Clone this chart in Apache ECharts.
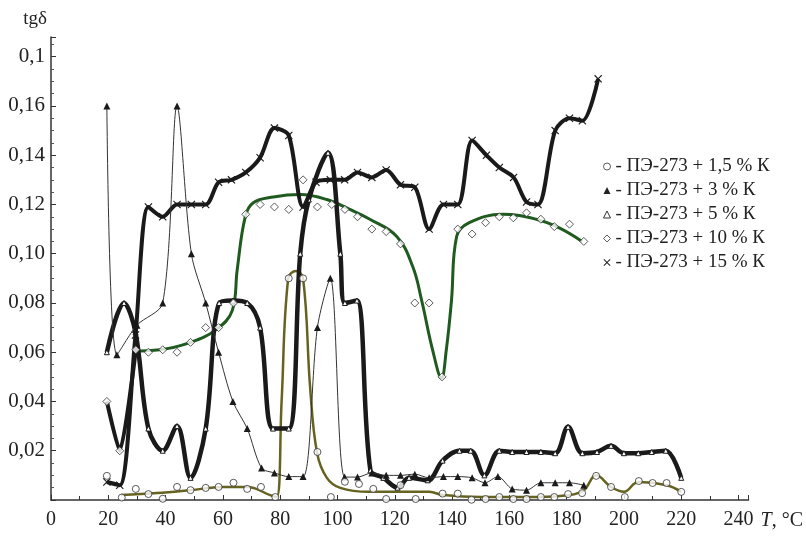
<!DOCTYPE html>
<html>
<head>
<meta charset="utf-8">
<script src="https://cdn.jsdelivr.net/npm/echarts@6/dist/echarts.min.js"></script>
<style>
  html, body { margin: 0; background: #fff; }
  #chart { width: 806px; height: 540px; }
</style>
</head>
<body>
<div id="chart"></div>
<script>
// tgδ(T) for ПЭ-273 with different K content

const names = ['ПЭ-273 + 1,5 % К', 'ПЭ-273 + 3 % К', 'ПЭ-273 + 5 % К', 'ПЭ-273 + 10 % К', 'ПЭ-273 + 15 % К'];
const yTickLabels = ['0,02', '0,04', '0,06', '0,08', '0,10', '0,12', '0,14', '0,16', '0,1'];

// 1,5 % K: open circles + olive fitted curve
const t1_5 = [19.5, 24.7, 29.6, 34, 39, 44, 48.7, 54, 58.5, 63.7, 68.5, 73.3, 78.3, 83, 88, 93, 97.7, 102.6, 107.5, 112.5, 117, 122, 127.3, 136.7, 142, 146.8, 151.7, 156.5, 161.4, 166, 171, 175.7, 180.5, 185.4, 190.3, 195.5, 200.3, 205.2, 210, 214.9, 220];
const v1_5 = [0.0098, 0.001, 0.0045, 0.0024, 0.0005, 0.0053, 0.004, 0.0049, 0.0053, 0.007, 0.0045, 0.0053, 0.0012, 0.09, 0.09, 0.0195, 0.0012, 0.0074, 0.0065, 0.0045, 0.0004, 0.006, 0.0004, 0.0026, 0.0026, 0.0001, 0.0004, 0.0012, 0.0004, 0.0004, 0.0012, 0.0012, 0.0024, 0.0028, 0.0098, 0.0053, 0.0012, 0.0077, 0.0069, 0.0069, 0.0033];
const fit1_5T = [24.5, 37, 48.7, 60, 68.5, 76.5, 78.8, 80.5, 82.8, 85.5, 88, 90.5, 92.9, 96.3, 101, 111, 132, 137, 150, 170, 181, 186, 190.3, 195.5, 200, 205, 215, 220];
const fit1_5V = [0.002, 0.0028, 0.004, 0.0053, 0.0053, 0.002, 0.0012, 0.04, 0.09, 0.093, 0.09, 0.045, 0.019, 0.009, 0.0049, 0.0033, 0.0033, 0.002, 0.0012, 0.0012, 0.002, 0.004, 0.010, 0.0053, 0.0033, 0.0073, 0.006, 0.0033];

// 3 % K: filled triangles, thin line
const t3 = [19.5, 23, 30, 39, 44, 49, 54, 58.5, 63.5, 68.5, 73.5, 78, 83, 88, 93, 97.5, 102.5, 107, 112, 117, 122, 127, 132, 137, 142, 147, 151.5, 156, 161, 166, 171, 176, 181, 186];
const v3 = [0.16, 0.059, 0.071, 0.08, 0.16, 0.10, 0.08, 0.06, 0.04, 0.029, 0.013, 0.011, 0.0095, 0.0095, 0.07, 0.09, 0.0093, 0.0093, 0.011, 0.01, 0.01, 0.0105, 0.009, 0.0095, 0.0095, 0.009, 0.007, 0.0095, 0.0045, 0.004, 0.007, 0.007, 0.007, 0.006];

// 5 % K: open triangles, thick black line
const t5 = [19.5, 25.5, 29.5, 34, 39, 44, 48.7, 54, 58.7, 63.5, 68.5, 73, 77.5, 83, 87, 90, 96.7, 101, 102.6, 106.8, 111.5, 116, 121, 125, 131.5, 136.7, 142.6, 146.5, 151.3, 156.5, 161, 166, 171, 176, 180.5, 185.5, 190.6, 195.5, 200, 205, 209.7, 214.6, 220];
const v5 = [0.06, 0.08, 0.068, 0.029, 0.02, 0.03, 0.009, 0.029, 0.08, 0.081, 0.08, 0.07, 0.029, 0.029, 0.10, 0.122, 0.141, 0.10, 0.08, 0.081, 0.012, 0.009, 0.005, 0.009, 0.008, 0.016, 0.02, 0.02, 0.01, 0.02, 0.0195, 0.0195, 0.0195, 0.019, 0.0297, 0.019, 0.0195, 0.022, 0.019, 0.019, 0.0195, 0.02, 0.009];

// 10 % K: open diamonds, black start then green fitted curve
const t10 = [19.5, 24, 29.6, 34, 39, 44, 48.7, 54, 58.5, 63.7, 68, 73, 78, 83, 88, 93, 98, 102.6, 107, 112, 117, 122, 127, 132, 136.5, 142, 147, 151.7, 156.5, 161.4, 166, 171, 175.7, 181, 186];
const v10 = [0.04, 0.02, 0.061, 0.060, 0.061, 0.060, 0.064, 0.07, 0.07, 0.08, 0.116, 0.12, 0.119, 0.118, 0.13, 0.119, 0.12, 0.118, 0.115, 0.11, 0.109, 0.104, 0.08, 0.08, 0.05, 0.11, 0.108, 0.1126, 0.115, 0.1146, 0.1166, 0.114, 0.111, 0.112, 0.105];
const lead10T = [19.5, 24, 29.6];
const lead10V = [0.04, 0.02, 0.061];
const fit10T = [28.5, 38, 48.7, 57.4, 63.3, 65, 67.8, 70.6, 77.6, 87, 96.3, 104.3, 111.3, 120.7, 126.3, 129.4, 133.2, 136.3, 138, 139.8, 141.6, 146, 157.6, 169.4, 177.4, 185.4];
const fit10V = [0.0605, 0.061, 0.064, 0.069, 0.077, 0.0935, 0.115, 0.1207, 0.123, 0.124, 0.122, 0.118, 0.114, 0.107, 0.0947, 0.081, 0.061, 0.0496, 0.061, 0.081, 0.107, 0.1126, 0.116, 0.114, 0.1105, 0.105];

// 15 % K: crosses, thick black line
const t15 = [19.5, 24, 29.5, 34, 39, 44, 49, 54, 58.5, 63, 68, 73, 78, 83, 88, 92.5, 97.5, 102.5, 107, 112, 117, 122, 127, 132, 137, 142, 147, 152, 156.5, 161.5, 166, 170, 176, 181, 185.5, 191];
const v15 = [0.0073, 0.006, 0.067, 0.119, 0.115, 0.12, 0.12, 0.12, 0.129, 0.13, 0.133, 0.139, 0.151, 0.148, 0.119, 0.129, 0.13, 0.13, 0.133, 0.131, 0.134, 0.128, 0.127, 0.11, 0.12, 0.12, 0.146, 0.14, 0.135, 0.131, 0.121, 0.12, 0.15, 0.155, 0.154, 0.171];

const pairs = (t, v) => t.map((x, i) => [x, v[i]]);
const crossPath = 'path://M0,1L1,0L5,4L9,0L10,1L6,5L10,9L9,10L5,6L1,10L0,9L4,5Z';
const serif = '"Liberation Serif", "DejaVu Serif", serif';
const ink = '#1a1a1a';
const openStyle = { color: '#fff', borderColor: '#333', borderWidth: 1 };

const chart = echarts.init(document.getElementById('chart'));

const option = {
    backgroundColor: '#fff',
    animation: false,
    grid: { left: 51, right: 56, top: 37, bottom: 40 },
    legend: {
        orient: 'vertical',
        left: 598,
        top: 152,
        itemWidth: 7,
        itemHeight: 7,
        itemGap: 5,
        formatter: '- {name}',
        textStyle: { fontFamily: serif, fontSize: 19, lineHeight: 19, color: '#222' },
        data: [
            { name: names[0], icon: 'circle', itemStyle: openStyle },
            { name: names[1], icon: 'triangle', itemStyle: { color: '#222' } },
            { name: names[2], icon: 'triangle', itemStyle: openStyle },
            { name: names[3], icon: 'diamond', itemStyle: openStyle },
            { name: names[4], icon: crossPath, itemStyle: { color: '#222' } }
        ]
    },
    xAxis: {
        type: 'value',
        min: 0,
        max: 243.5,
        interval: 20,
        name: '{i|T}, °C',
        nameLocation: 'end',
        nameGap: 12,
        nameTextStyle: {
            fontFamily: serif, fontSize: 20, color: '#222',
            verticalAlign: 'top', padding: [11, 0, 0, 0],
            rich: { i: { fontFamily: serif, fontSize: 20, fontStyle: 'italic', color: '#222' } }
        },
        axisLine: { show: true, lineStyle: { color: '#333', width: 1.5 } },
        axisTick: { show: true, inside: true, length: 5, lineStyle: { color: '#333' } },
        minorTick: { show: true, splitNumber: 2, length: 4, lineStyle: { color: '#333' } },
        splitLine: { show: false },
        axisLabel: {
            margin: 10, fontFamily: serif, fontSize: 20, color: '#222',
            showMaxLabel: false
        }
    },
    yAxis: {
        type: 'value',
        min: 0,
        max: 0.188,
        interval: 0.02,
        name: 'tgδ',
        nameLocation: 'end',
        nameGap: 8,
        nameTextStyle: { fontFamily: serif, fontSize: 19, color: '#222', align: 'right', padding: [0, 4, 0, 0] },
        axisLine: { show: true, lineStyle: { color: '#333', width: 1.5 } },
        axisTick: { show: true, inside: true, length: 5, lineStyle: { color: '#333' } },
        minorTick: { show: true, splitNumber: 4, length: 3, lineStyle: { color: '#555' } },
        splitLine: { show: false },
        axisLabel: {
            margin: 6, fontFamily: serif, fontSize: 21, color: '#222',
            showMaxLabel: false,
            formatter: v => {
                const k = Math.round(v / 0.02);
                return k >= 1 && k <= yTickLabels.length ? yTickLabels[k - 1] : '';
            }
        }
    },
    series: [
        {
            name: 'fit 1,5',
            type: 'line',
            data: pairs(fit1_5T, fit1_5V),
            smooth: 0.4,
            showSymbol: false,
            lineStyle: { color: '#66621f', width: 2.5 },
            z: 2
        },
        {
            name: 'fit 10',
            type: 'line',
            data: pairs(fit10T, fit10V),
            smooth: 0.4,
            showSymbol: false,
            lineStyle: { color: '#1f5a1f', width: 3 },
            z: 2
        },
        {
            name: 'lead 10',
            type: 'line',
            data: pairs(lead10T, lead10V),
            smooth: 0.2,
            showSymbol: false,
            lineStyle: { color: ink, width: 4 },
            z: 3
        },
        {
            name: names[2],
            type: 'line',
            data: pairs(t5, v5),
            smooth: 0.35,
            symbol: 'triangle',
            symbolSize: 5,
            itemStyle: { color: '#fff', borderColor: ink, borderWidth: 1 },
            lineStyle: { color: ink, width: 4.5 },
            z: 3
        },
        {
            name: names[4],
            type: 'line',
            data: pairs(t15, v15),
            smooth: 0.3,
            symbol: crossPath,
            symbolSize: 8,
            itemStyle: { color: ink },
            lineStyle: { color: ink, width: 4 },
            z: 4
        },
        {
            name: names[1],
            type: 'line',
            data: pairs(t3, v3),
            smooth: 0.3,
            symbol: 'triangle',
            symbolSize: 7,
            itemStyle: { color: ink },
            lineStyle: { color: '#333', width: 1 },
            z: 5
        },
        {
            name: names[3],
            type: 'scatter',
            data: pairs(t10, v10),
            symbol: 'diamond',
            symbolSize: 8,
            itemStyle: openStyle,
            z: 6
        },
        {
            name: names[0],
            type: 'scatter',
            data: pairs(t1_5, v1_5),
            symbol: 'circle',
            symbolSize: 7,
            itemStyle: openStyle,
            z: 6
        }
    ]
};

chart.setOption(option);
</script>
</body>
</html>
